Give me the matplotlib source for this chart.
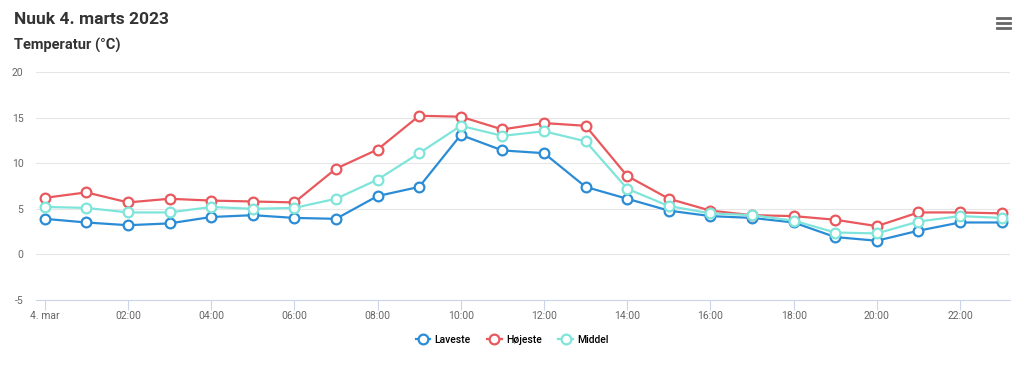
import numpy as np
import matplotlib as mpl

mpl.use('Agg')
import matplotlib.pyplot as plt
from matplotlib.lines import Line2D

plt.rcParams['font.family'] = ['Roboto', 'DejaVu Sans']
plt.rcParams['axes.unicode_minus'] = False

# Hourly temperatures, Nuuk 4 March 2023
hours = list(range(24))
laveste = [3.9, 3.5, 3.2, 3.4, 4.1, 4.3, 4.0, 3.9, 6.4, 7.4, 13.1, 11.4,
           11.1, 7.4, 6.1, 4.8, 4.2, 4.0, 3.5, 1.9, 1.5, 2.6, 3.5, 3.5]
hoejeste = [6.2, 6.8, 5.7, 6.1, 5.9, 5.8, 5.7, 9.4, 11.5, 15.2, 15.1, 13.7,
            14.4, 14.1, 8.6, 6.1, 4.8, 4.3, 4.2, 3.8, 3.1, 4.6, 4.6, 4.5]
middel = [5.2, 5.1, 4.6, 4.6, 5.2, 5.0, 5.1, 6.1, 8.2, 11.1, 14.1, 13.0,
          13.5, 12.4, 7.2, 5.3, 4.5, 4.3, 3.7, 2.4, 2.3, 3.6, 4.2, 4.0]
tick_hours = list(range(0, 24, 2))
tick_labels = ['4. mar'] + [f'{h:02d}:00' for h in tick_hours[1:]]
y_ticks = [-5, 0, 5, 10, 15, 20]

series = [
    ('Laveste', laveste, '#2b8cd6'),
    ('Højeste', hoejeste, '#e8585c'),
    ('Middel', middel, '#7fe5da'),
]

fig = plt.figure(figsize=(10.24, 3.7), dpi=100)
ax = fig.add_axes([36 / 1024, 70 / 370, 974 / 1024, 228 / 370])

for name, vals, col in series:
    ax.plot(hours, vals, color=col, lw=1.6, marker='o', ms=7,
            mfc='white', mec=col, mew=1.6, label=name, zorder=3)

ax.set_xlim(-0.21, 23.2)
ax.set_ylim(-5, 20)
ax.set_yticks(y_ticks)
ax.set_xticks(tick_hours)
ax.set_xticklabels(tick_labels)
ax.grid(axis='y', color='#e6e6e6', lw=0.8)
ax.set_axisbelow(True)
for s in ['top', 'right', 'left']:
    ax.spines[s].set_visible(False)
ax.spines['bottom'].set_color('#ccd6eb')
ax.spines['bottom'].set_linewidth(0.8)
ax.tick_params(axis='y', length=0, labelsize=7.5, labelcolor='#666666', pad=9)
ax.tick_params(axis='x', length=7, color='#ccd6eb', width=0.8,
               labelsize=7.5, labelcolor='#666666', pad=1)

fig.text(14 / 1024, 1 - 20 / 370, 'Nuuk 4. marts 2023', fontsize=12.5,
         fontweight='bold', color='#333333', va='center', ha='left')
fig.text(14 / 1024, 1 - 45 / 370, 'Temperatur (°C)', fontsize=10.5,
         fontweight='bold', color='#333333', va='center', ha='left')

# menu icon
for yy in [18, 23, 28]:
    fig.add_artist(Line2D([997 / 1024, 1010 / 1024], [1 - yy / 370, 1 - yy / 370],
                          color='#666666', lw=2, transform=fig.transFigure))

fig.legend(loc='center', bbox_to_anchor=(0.5, 1 - 340 / 370), ncol=3,
           frameon=False, handlelength=1.4, columnspacing=1.6,
           handletextpad=0.4, prop={'weight': 'medium', 'size': 7.5})

fig.savefig('out.png', dpi=100)
